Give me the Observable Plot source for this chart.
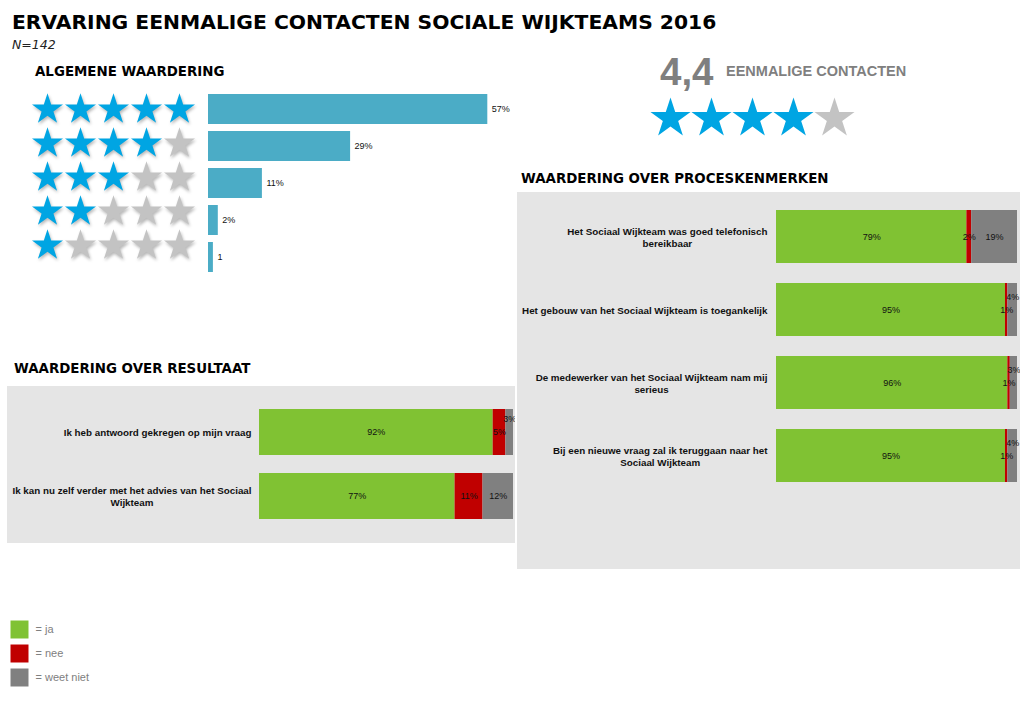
<!DOCTYPE html>
<html><head><meta charset="utf-8">
<script src="https://cdn.jsdelivr.net/npm/d3@7"></script>
<script src="https://cdn.jsdelivr.net/npm/@observablehq/plot@0.6"></script>
<style>
html,body{margin:0;padding:0;background:#fff;}
#page{position:relative;width:1024px;height:701px;overflow:hidden;background:#fff;}
.abs{position:absolute;white-space:nowrap;line-height:1;}
.abs svg{display:block;}
.verdana{font-family:"DejaVu Sans",Verdana,sans-serif;}
.arial{font-family:"Liberation Sans",Arial,sans-serif;}
</style></head><body><div id="page"></div>
<script>
// ---------- data ----------
const chartTitle = "ERVARING EENMALIGE CONTACTEN SOCIALE WIJKTEAMS 2016";
const sampleSize = "N=142";

const ratingTitle = "ALGEMENE WAARDERING";
const ratingStars = [5, 4, 3, 2, 1];
const ratingPct = [57, 29, 11, 2, 1];
const ratingLabels = ["57%", "29%", "11%", "2%", "1"];

const averageScore = 4.4;
const averageLabel = "EENMALIGE CONTACTEN";

const processTitle = "WAARDERING OVER PROCESKENMERKEN";
const processItems = [
  "Het Sociaal Wijkteam was goed telefonisch\nbereikbaar",
  "Het gebouw van het Sociaal Wijkteam is toegankelijk",
  "De medewerker van het Sociaal Wijkteam nam mij\nserieus",
  "Bij een nieuwe vraag zal ik teruggaan naar het\nSociaal Wijkteam"
];
const processJa = [79, 95, 96, 95];
const processNee = [2, 1, 1, 1];
const processWeet = [19, 4, 3, 4];

const resultTitle = "WAARDERING OVER RESULTAAT";
const resultItems = [
  "Ik heb antwoord gekregen op mijn vraag",
  "Ik kan nu zelf verder met het advies van het Sociaal\nWijkteam"
];
const resultJa = [92, 77];
const resultNee = [5, 11];
const resultWeet = [3, 12];

const answerKeys = ["ja", "nee", "weet niet"];
const legendLabels = ["= ja", "= nee", "= weet niet"];

// ---------- styles ----------
const answerColors = ["#80c233", "#c00000", "#808080"];
const starBlue = "#00a5e3", starGrey = "#c3c3c3", barBlue = "#4bacc6";
const ARIAL = "Liberation Sans, Arial, sans-serif";
const LABEL_SIZE = 9.8;

const page = document.getElementById("page");
function place(el, left, top, cls) {
  const d = document.createElement("div");
  d.className = "abs " + (cls || "");
  d.style.left = left + "px";
  d.style.top = top + "px";
  if (typeof el === "string") d.textContent = el; else d.appendChild(el);
  page.appendChild(d);
  return d;
}
function textDiv(txt, left, top, css, cls) {
  const d = place(txt, left, top, cls);
  Object.assign(d.style, css);
  return d;
}

// ---------- titles ----------
textDiv(chartTitle, 12, 12.3, {fontSize: "20.3px", fontWeight: "bold", color: "#000"}, "verdana");
textDiv(sampleSize, 12, 38.9, {fontSize: "12.5px", fontStyle: "italic", color: "#222"}, "verdana");
textDiv(ratingTitle, 35, 64.7, {fontSize: "13.4px", fontWeight: "bold", color: "#000"}, "verdana");
textDiv(resultTitle, 14, 362, {fontSize: "13.4px", fontWeight: "bold", color: "#000"}, "verdana");
textDiv(processTitle, 521, 172, {fontSize: "13.4px", fontWeight: "bold", color: "#000"}, "verdana");
textDiv(averageScore.toFixed(1).replace(".", ","), 660, 52.8, {fontSize: "38.5px", fontWeight: "bold", color: "#7f7f7f"}, "arial");
textDiv(averageLabel, 726, 63.7, {fontSize: "14.5px", fontWeight: "bold", color: "#7f7f7f"}, "arial");

// ---------- star grid ----------
const starRows = d3.cross(ratingStars, [1, 2, 3, 4, 5]).map(([row, s]) => ({row, s, on: s <= row ? "vol" : "leeg"}));
place(Plot.plot({
  width: 180, height: 180,
  marginLeft: 22, marginRight: 26, marginTop: 20, marginBottom: 22,
  style: {background: "transparent", filter: "drop-shadow(1px 2px 1.5px rgba(0,0,0,0.28))"},
  x: {type: "point", domain: [1, 2, 3, 4, 5], padding: 0, axis: null},
  y: {type: "point", domain: ratingStars, padding: 0, axis: null},
  color: {domain: ["vol", "leeg"], range: [starBlue, starGrey]},
  marks: [Plot.dot(starRows, {x: "s", y: "row", fill: "on", symbol: "star", r: 9.75, stroke: "none"})]
}), 25, 88);

// ---------- rating bars ----------
const ratingData = ratingStars.map((r, i) => ({row: r, pct: ratingPct[i], label: ratingLabels[i]}));
place(Plot.plot({
  width: 498, height: 196,
  marginLeft: 8, marginRight: 0, marginTop: 0, marginBottom: 0,
  style: {background: "transparent", fontFamily: ARIAL},
  x: {domain: [0, 100], axis: null},
  y: {domain: ratingStars, padding: 0.2, axis: null},
  marks: [
    Plot.barX(ratingData, {x: "pct", y: "row", fill: barBlue}),
    Plot.text(ratingData, {x: "pct", y: "row", text: "label", textAnchor: "start", dx: 4, fontSize: 9, fill: "#111"})
  ]
}), 200, 85);

// ---------- average stars ----------
const avgStars = [1, 2, 3, 4, 5].map(s => ({s, on: s <= Math.floor(averageScore) ? "vol" : "leeg"}));
place(Plot.plot({
  width: 230, height: 56,
  marginLeft: 29, marginRight: 36, marginTop: 0, marginBottom: 0,
  style: {background: "transparent"},
  x: {type: "point", domain: [1, 2, 3, 4, 5], padding: 0, axis: null},
  color: {domain: ["vol", "leeg"], range: [starBlue, starGrey]},
  marks: [Plot.dot(avgStars, {x: "s", fill: "on", symbol: "star", r: 12.6, stroke: "none"})]
}), 640, 90);

// ---------- stacked panels ----------
const ctx = document.createElement("canvas").getContext("2d");
ctx.font = "bold " + LABEL_SIZE + "px 'Liberation Sans'";
function stackedPanel(items, ja, nee, weet, o) {
  const rows = items.flatMap((item, i) => [
    {item, key: "ja", value: ja[i]},
    {item, key: "nee", value: nee[i]},
    {item, key: "weet niet", value: weet[i]}
  ]);
  const raised = d => d.key === "weet niet" && d.value < 5;
  const labelMarks = items.map(item => {
    const w = d3.max(item.split("\n"), l => ctx.measureText(l).width);
    return Plot.text([item], {y: d => d, text: d => d, frameAnchor: "left", textAnchor: "middle",
      dx: -(o.gap + w / 2), fontWeight: "bold", fontSize: LABEL_SIZE, lineHeight: 1.2, fill: "#111"});
  });
  return Plot.plot({
    width: o.width, height: o.height,
    marginLeft: o.marginLeft, marginRight: o.marginRight, marginTop: o.marginTop, marginBottom: o.marginBottom,
    style: {background: "#e5e5e5", fontFamily: ARIAL},
    x: {domain: [0, 100], axis: null},
    y: {domain: items, paddingInner: 0.28, paddingOuter: o.paddingOuter, axis: null},
    color: {domain: answerKeys, range: answerColors},
    marks: [
      Plot.barX(rows, {x: "value", y: "item", fill: "key"}),
      Plot.text(rows, Plot.stackX({x: "value", y: "item", z: "key", text: d => raised(d) ? "" : d.value + "%", fontSize: 9, fill: "#111"})),
      Plot.text(rows, Plot.stackX({x: "value", y: "item", z: "key", text: d => raised(d) ? d.value + "%" : "", fontSize: 9, fill: "#111", dy: -13})),
      ...labelMarks
    ]
  });
}
place(stackedPanel(processItems, processJa, processNee, processWeet, {
  width: 503, height: 377, marginLeft: 259, marginRight: 3, marginTop: 2, marginBottom: 72, paddingOuter: 0.2, gap: 9
}), 517, 192);
place(stackedPanel(resultItems, resultJa, resultNee, resultWeet, {
  width: 508, height: 157, marginLeft: 252, marginRight: 2, marginTop: 0, marginBottom: 0, paddingOuter: 0.36, gap: 8
}), 7, 386);

// ---------- legend ----------
const legendData = answerKeys.map((k, i) => ({k, label: legendLabels[i]}));
place(Plot.plot({
  width: 120, height: 85,
  marginLeft: 19, marginRight: 0, marginTop: 18, marginBottom: 17.5,
  style: {background: "transparent", fontFamily: ARIAL},
  y: {type: "point", domain: answerKeys, padding: 0, axis: null},
  color: {domain: answerKeys, range: answerColors},
  marks: [
    Plot.dot(legendData, {y: "k", fill: "k", symbol: "square", r: 10.155, stroke: "none", frameAnchor: "left"}),
    Plot.text(legendData, {y: "k", text: "label", frameAnchor: "left", textAnchor: "start", dx: 16, fontSize: 11, fill: "#808080"})
  ]
}), 0, 610);
</script></body></html>
